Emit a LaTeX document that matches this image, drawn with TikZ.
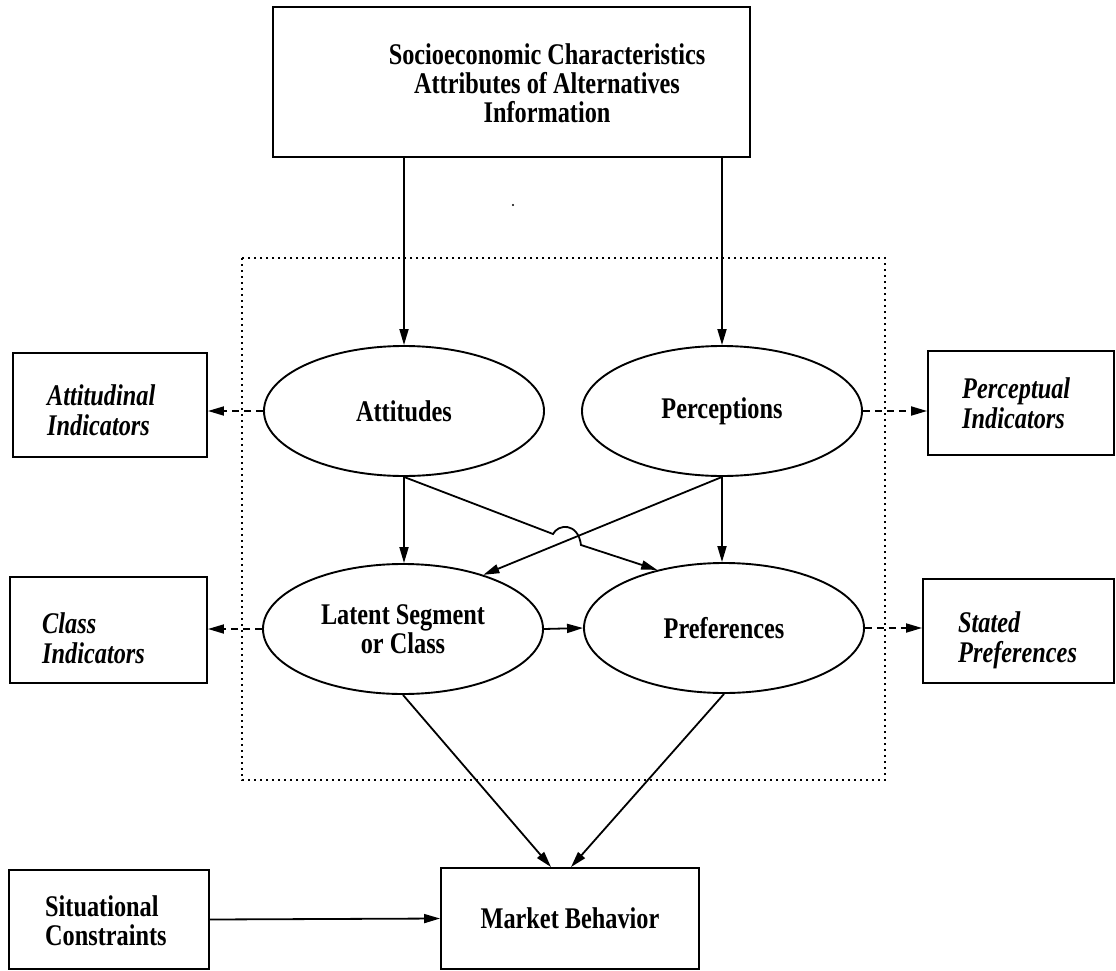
\documentclass[tikz,border=0pt]{standalone}
\usepackage{fontspec}
\setmainfont{Liberation Serif}[FakeStretch=0.81]
\usetikzlibrary{arrows.meta,calc,shapes.geometric}

\begin{document}
\begin{tikzpicture}[x=1pt,y=-1pt,
  every node/.style={font=\fontsize{30}{29}\selectfont\bfseries},
  frame/.style={draw, line width=1.9pt, inner sep=0pt},
  oval/.style={ellipse, draw, line width=1.9pt, minimum width=280pt,
    minimum height=130pt, inner sep=0pt, align=center},
  lbl/.style={align=left, anchor=west, inner sep=0pt},
  ilbl/.style={lbl, font=\fontsize{30}{30}\selectfont\bfseries\itshape},
  arr/.style={line width=1.8pt, -{Triangle[length=16pt,width=9pt]}},
  darr/.style={arr, dash pattern=on 7pt off 5pt},
  zone/.style={line width=1.8pt, dash pattern=on 1.6pt off 4.4pt}]

\useasboundingbox (0,0) rectangle (1116,971);

% exogenous inputs
\node[frame, minimum width=477pt, minimum height=150pt] (top) at (511.5,82) {};
\node[align=center, inner sep=0pt] (topT) at (547,83)
  {Socioeconomic Characteristics\\Attributes of Alternatives\\Information};
\fill (513,205) circle (1.1pt);

% latent part of the model
\draw[zone] (242,258) rectangle (885,780);

\node[oval] (att) at (404,411) {Attitudes};
\node[oval] (per) at (722,411) {Perceptions};
\node[oval] (lat) at (403,629) {Latent Segment\\or Class};
\node[oval] (pref) at (724,628) {Preferences};

% indicator boxes
\node[frame, minimum width=194pt, minimum height=104pt] (attInd) at (110,405) {};
\node[ilbl] (attIndT) at (47,410) {Attitudinal\\Indicators};
\node[frame, minimum width=197pt, minimum height=106pt] (clsInd) at (108.5,630) {};
\node[ilbl] (clsIndT) at (42,638) {Class\\Indicators};
\node[frame, minimum width=186pt, minimum height=104pt] (perInd) at (1021,403) {};
\node[ilbl] (perIndT) at (962,403) {Perceptual\\Indicators};
\node[frame, minimum width=191pt, minimum height=104pt] (stPref) at (1018.5,631) {};
\node[ilbl] (stPrefT) at (958,640) {Stated\\Preferences};

% outcome
\node[frame, minimum width=200pt, minimum height=99pt] (sit) at (109,919.5) {};
\node[lbl] (sitT) at (45,921) {Situational\\Constraints};
\node[frame, minimum width=258pt, minimum height=101pt] (mkt) at (570,918.5) {Market Behavior};

% causal links
\draw[arr] (top.south -| att.north) -- (att.north);
\draw[arr] (top.south -| per.north) -- (per.north);
\draw[arr] (att.south) -- (att.south |- lat.north);
\draw[arr] (per.south) -- (per.south |- pref.north);
\coordinate (h1) at (553,534);
\coordinate (h2) at (581,545);
\draw[arr] (att.south) -- (h1) .. controls (558,524) and (578,522) .. (h2) -- (pref.139);
\draw[arr] (per.south) -- (lat.34);
\draw[arr] (lat.east) -- (pref.west);
\draw[arr] (lat.south) -- ($(mkt.north)+(-19,0)$);
\draw[arr] (pref.south) -- ($(mkt.north)+(1,0)$);
\draw[arr] (sit.east) -- (mkt.west);

% measurement links
\draw[darr] (att.west) -- (att.west -| attInd.east);
\draw[darr] (per.east) -- (per.east -| perInd.west);
\draw[darr] (lat.west) -- (lat.west -| clsInd.east);
\draw[darr] (pref.east) -- (pref.east -| stPref.west);
\end{tikzpicture}
\end{document}
